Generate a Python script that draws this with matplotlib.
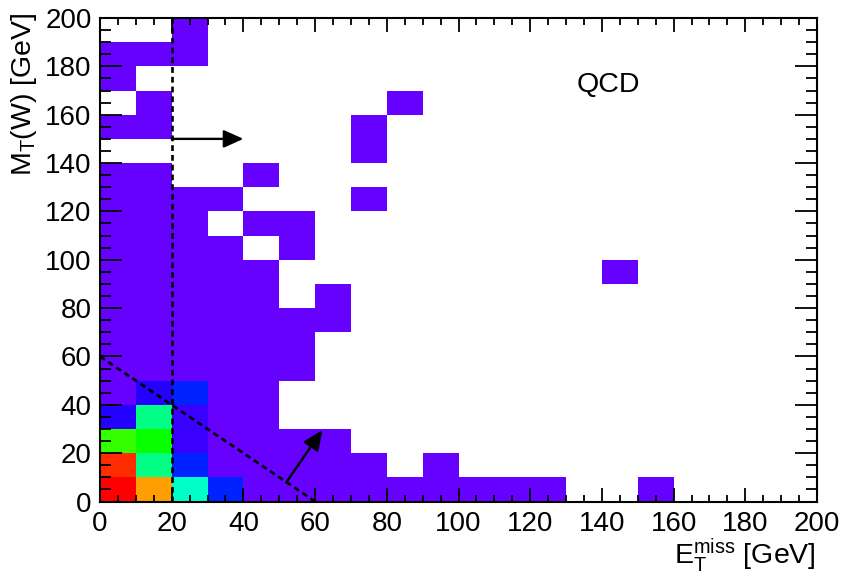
import numpy as np
import matplotlib
matplotlib.use("Agg")
import matplotlib.pyplot as plt
from matplotlib.colors import ListedColormap, hsv_to_rgb

plt.rcParams["font.family"] = ["Liberation Sans", "DejaVu Sans"]
plt.rcParams["mathtext.fontset"] = "custom"
plt.rcParams["mathtext.rm"] = "Liberation Sans"
plt.rcParams["mathtext.it"] = "Liberation Sans"

# Binning (GeV)
met_edges = np.arange(0, 201, 10)
mt_edges = np.arange(0, 201, 10)

# QCD event counts per bin; one row per 10 GeV of M_T(W), highest row first,
# columns run over E_T^miss from 0 to 200 GeV
counts_rows = [
    [0, 0, 1, 0, 0, 0, 0, 0, 0, 0, 0, 0, 0, 0, 0, 0, 0, 0, 0, 0],  # 190-200
    [1, 1, 1, 0, 0, 0, 0, 0, 0, 0, 0, 0, 0, 0, 0, 0, 0, 0, 0, 0],  # 180-190
    [1, 0, 0, 0, 0, 0, 0, 0, 0, 0, 0, 0, 0, 0, 0, 0, 0, 0, 0, 0],  # 170-180
    [0, 1, 0, 0, 0, 0, 0, 0, 1, 0, 0, 0, 0, 0, 0, 0, 0, 0, 0, 0],  # 160-170
    [1, 1, 0, 0, 0, 0, 0, 1, 0, 0, 0, 0, 0, 0, 0, 0, 0, 0, 0, 0],  # 150-160
    [0, 0, 0, 0, 0, 0, 0, 1, 0, 0, 0, 0, 0, 0, 0, 0, 0, 0, 0, 0],  # 140-150
    [1, 1, 0, 0, 1, 0, 0, 0, 0, 0, 0, 0, 0, 0, 0, 0, 0, 0, 0, 0],  # 130-140
    [1, 1, 1, 1, 0, 0, 0, 1, 0, 0, 0, 0, 0, 0, 0, 0, 0, 0, 0, 0],  # 120-130
    [1, 1, 1, 0, 1, 1, 0, 0, 0, 0, 0, 0, 0, 0, 0, 0, 0, 0, 0, 0],  # 110-120
    [1, 1, 1, 1, 0, 1, 0, 0, 0, 0, 0, 0, 0, 0, 0, 0, 0, 0, 0, 0],  # 100-110
    [1, 1, 1, 1, 1, 0, 0, 0, 0, 0, 0, 0, 0, 0, 1, 0, 0, 0, 0, 0],  # 90-100
    [1, 1, 1, 1, 1, 0, 1, 0, 0, 0, 0, 0, 0, 0, 0, 0, 0, 0, 0, 0],  # 80-90
    [1, 1, 1, 1, 1, 1, 1, 0, 0, 0, 0, 0, 0, 0, 0, 0, 0, 0, 0, 0],  # 70-80
    [1, 1, 1, 1, 1, 1, 0, 0, 0, 0, 0, 0, 0, 0, 0, 0, 0, 0, 0, 0],  # 60-70
    [1, 1, 1, 1, 1, 1, 0, 0, 0, 0, 0, 0, 0, 0, 0, 0, 0, 0, 0, 0],  # 50-60
    [1, 4, 7, 1, 1, 0, 0, 0, 0, 0, 0, 0, 0, 0, 0, 0, 0, 0, 0, 0],  # 40-50
    [4, 22, 3, 1, 1, 0, 0, 0, 0, 0, 0, 0, 0, 0, 0, 0, 0, 0, 0, 0],  # 30-40
    [30, 28, 3, 1, 1, 1, 1, 0, 0, 0, 0, 0, 0, 0, 0, 0, 0, 0, 0, 0],  # 20-30
    [48, 22, 7, 1, 1, 1, 1, 1, 0, 1, 0, 0, 0, 0, 0, 0, 0, 0, 0, 0],  # 10-20
    [50, 43, 19, 7, 1, 1, 1, 1, 1, 1, 1, 1, 1, 0, 0, 1, 0, 0, 0, 0],  # 0-10
]
counts = np.array(counts_rows[::-1], dtype=float)

# Selection cuts (GeV)
met_cut = 20
sum_cut = 60

# Rainbow palette: violet at the minimum, red at the maximum
hue = np.linspace(264, 0, 256) / 360.0
hsv = np.stack([hue, np.ones_like(hue), np.ones_like(hue)], axis=1)
palette = ListedColormap(hsv_to_rgb(hsv))

fig = plt.figure(figsize=(8.43, 5.76), dpi=100)
ax = fig.add_axes([100 / 843, 1 - 501.5 / 576, 717 / 843, 483.5 / 576])

ax.pcolormesh(met_edges, mt_edges, np.ma.masked_equal(counts, 0),
              cmap=palette, vmin=counts[counts > 0].min(), vmax=counts.max())

dash = dict(color="black", lw=1.9, dashes=(2.2, 1.5))
ax.plot([met_cut, met_cut], [0, 200], **dash)
ax.plot([0, sum_cut], [sum_cut, 0], **dash)

arrow = dict(arrowstyle="-|>,head_length=1.0,head_width=0.45",
             color="black", lw=1.7, mutation_scale=12, shrinkA=0, shrinkB=0)
ax.annotate("", xy=(40, 150), xytext=(met_cut, 150), arrowprops=arrow)
ax.annotate("", xy=(62, 29.5), xytext=(52, 8), arrowprops=arrow)

ax.set_xlim(0, 200)
ax.set_ylim(0, 200)
ax.set_xticks(np.arange(0, 201, 20))
ax.set_yticks(np.arange(0, 201, 20))
ax.set_xticks(np.arange(0, 201, 5), minor=True)
ax.set_yticks(np.arange(0, 201, 5), minor=True)
ax.tick_params(which="both", direction="in", top=True, right=True,
               width=1.3, labelsize=20, colors="black")
ax.tick_params(axis="x", which="major", length=10.4, pad=6.5)
ax.tick_params(axis="x", which="minor", length=5.2)
ax.tick_params(axis="y", which="major", length=15.5, pad=6.0)
ax.tick_params(axis="y", which="minor", length=7.7)
for sp in ax.spines.values():
    sp.set_linewidth(1.5)

fig.text(816 / 843, 1 - 564 / 576, r"$\mathregular{E_{T}^{miss}}$ [GeV]",
         ha="right", va="baseline", fontsize=20.5)
fig.text(24.5 / 843, 1 - 12 / 576, r"$\mathregular{M_{T}}$(W) [GeV]",
         ha="center", va="top", rotation=90, fontsize=20.5)
fig.text(577 / 843, 1 - 85 / 576, "QCD", ha="left", va="center", fontsize=20.5)

fig.savefig("out.png", dpi=100)
